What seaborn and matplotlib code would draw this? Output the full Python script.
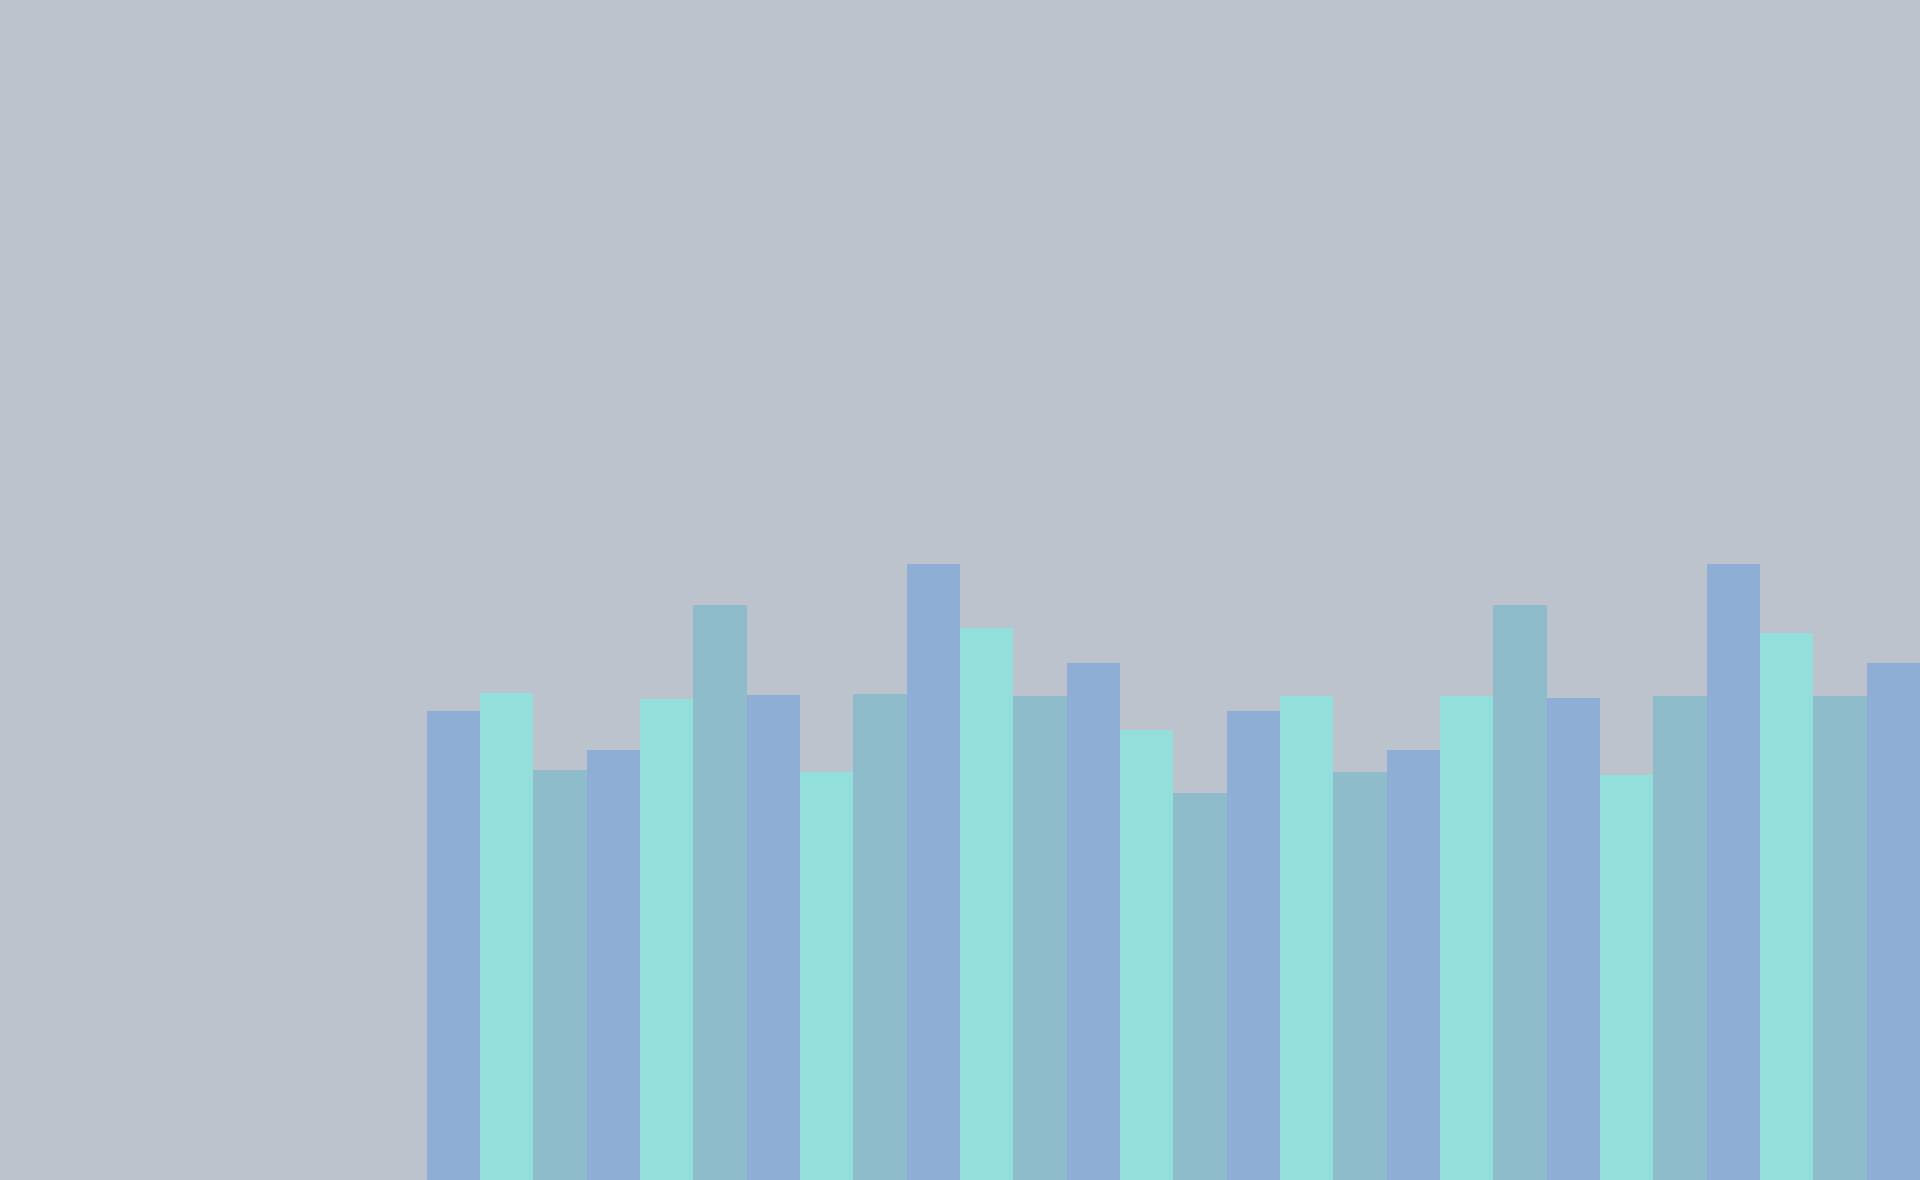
import numpy as np
import pandas as pd
import matplotlib
matplotlib.use("Agg")
import matplotlib.pyplot as plt
import seaborn as sns

# bar heights (arbitrary units, axis top = 964)
values = [383, 398, 335, 351, 393, 470, 396, 333, 397, 503,
          451, 395, 422, 368, 316, 383, 395, 333, 351, 395,
          470, 394, 331, 395, 503, 447, 395, 422]
colors = ["#8FAED5", "#93DFDB", "#8FBCCA"]
bg = "#BCC3CD"

df = pd.DataFrame({"idx": np.arange(len(values)), "val": values})
df["grp"] = [str(i % 3) for i in df.idx]

fig = plt.figure(figsize=(19.2, 11.8), dpi=100, facecolor=bg)
ax = fig.add_axes([0, 0, 1, 1])
ax.set_facecolor(bg)
sns.barplot(data=df, x="idx", y="val", hue="grp", palette=colors,
            width=1, dodge=False, legend=False, saturation=1,
            linewidth=0, native_scale=True, ax=ax)
ax.set_xlim(-8.5, 27.5)
ax.set_ylim(0, 964)
ax.axis("off")
fig.savefig("out.png", dpi=100, facecolor=bg)
